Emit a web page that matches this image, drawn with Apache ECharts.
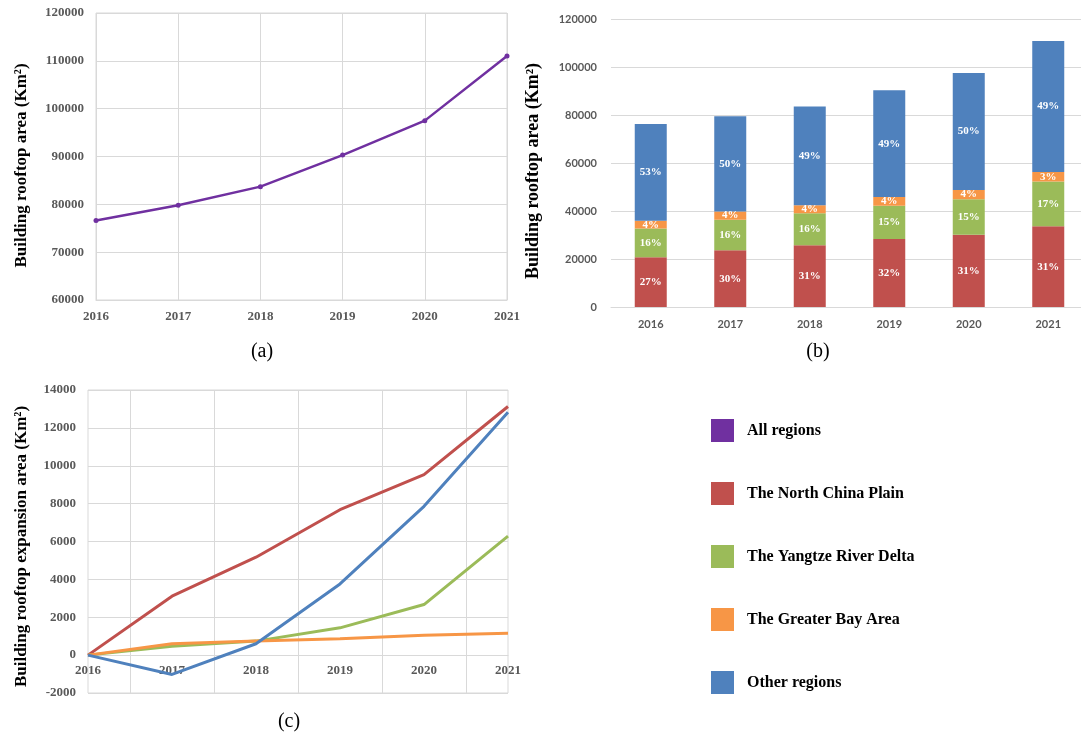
<!DOCTYPE html>
<html>
<head>
<meta charset="utf-8">
<title>Building rooftop area</title>
<script src="https://cdn.jsdelivr.net/npm/echarts@6/dist/echarts.min.js"></script>
<style>
  body { margin: 0; background: #fff; }
  #chart { width: 1081px; height: 737px; }
</style>
</head>
<body>
<div id="chart"></div>
<script>
// ---- data ----
const years = ["2016", "2017", "2018", "2019", "2020", "2021"];

// (a) total rooftop area, all regions
const allRegions = [76600, 79800, 83700, 90300, 97500, 111000];

// (b) rooftop area by region (stacked)
const northChina = [20700, 23600, 25700, 28300, 30100, 33600];
const yangtzeDelta = [12000, 12800, 13400, 13900, 14800, 18700];
const greaterBay = [3200, 3400, 3300, 3600, 3900, 3900];
const otherRegions = [40400, 39700, 41100, 44500, 48700, 54600];

// share labels printed in the bars
const northPct = ["27%", "30%", "31%", "32%", "31%", "31%"];
const yangtzePct = ["16%", "16%", "16%", "15%", "15%", "17%"];
const bayPct = ["4%", "4%", "4%", "4%", "4%", "3%"];
const otherPct = ["53%", "50%", "49%", "49%", "50%", "49%"];

// (c) expansion relative to 2016
const northExp = [0, 3110, 5170, 7680, 9530, 13130];
const yangtzeExp = [0, 470, 740, 1440, 2670, 6280];
const bayExp = [0, 600, 740, 860, 1050, 1160];
const otherExp = [0, -1020, 600, 3760, 7860, 12830];

const C_ALL = "#7030A0";
const C_NORTH = "#C0504D";
const C_YANGTZE = "#9BBB59";
const C_BAY = "#F79646";
const C_OTHER = "#4F81BD";
const GRID_LINE = "#d9d9d9";

const serif = '"Liberation Serif", "Times New Roman", serif';
const sans = 'Lato, "Liberation Sans", sans-serif';

// panel (c) y range and plot height; the year axis sits on the zero line
const expMin = -2000;
const expMax = 14000;
const expHeight = 303;
const zeroOffset = -expHeight * (0 - expMin) / (expMax - expMin);

const myChart = echarts.init(document.getElementById("chart"));

const plain = (v) => String(v);
const serifLabel = { fontFamily: serif, fontWeight: "bold", fontSize: 13, color: "#595959", formatter: plain };
const sansLabel = { fontFamily: sans, fontWeight: "bold", fontSize: 11, color: "#595959", formatter: plain };

function axisTitle(size, shiftDown) {
  // right padding pushes the rotated title downwards
  return { fontFamily: serif, fontWeight: "bold", fontSize: size, color: "#000", padding: [0, shiftDown * 2, 0, 0] };
}

function barSeries(name, vals, pct, color) {
  return {
    name: name,
    type: "bar",
    stack: "area",
    xAxisIndex: 1,
    yAxisIndex: 1,
    barWidth: 32,
    data: vals,
    itemStyle: { color: color },
    label: {
      show: true,
      position: "inside",
      formatter: (p) => pct[p.dataIndex],
      fontFamily: serif,
      fontWeight: "bold",
      fontSize: 11,
      color: "#fff",
    },
  };
}

function expSeries(name, vals, color) {
  return {
    name: name,
    type: "line",
    xAxisIndex: 2,
    yAxisIndex: 2,
    data: vals,
    showSymbol: false,
    lineStyle: { color: color, width: 3 },
    itemStyle: { color: color },
  };
}

const option = {
  backgroundColor: "#fff",
  animation: false,
  grid: [
    { left: 96, top: 13, width: 411, height: 287, show: true, borderColor: GRID_LINE, outerBoundsMode: "none" },
    { left: 611, top: 19, width: 477, height: 288, outerBoundsMode: "none" },
    { left: 88, top: 390, width: 420, height: expHeight, show: true, borderColor: GRID_LINE, outerBoundsMode: "none" },
  ],
  xAxis: [
    {
      gridIndex: 0,
      type: "category",
      data: years,
      boundaryGap: false,
      axisLine: { lineStyle: { color: GRID_LINE } },
      axisTick: { show: false },
      axisLabel: Object.assign({}, serifLabel, { margin: 10 }),
      splitLine: { show: true, lineStyle: { color: GRID_LINE } },
    },
    {
      gridIndex: 1,
      type: "category",
      data: years,
      axisLine: { lineStyle: { color: GRID_LINE } },
      axisTick: { show: false },
      axisLabel: Object.assign({}, sansLabel, { margin: 12 }),
    },
    {
      gridIndex: 2,
      type: "category",
      data: years,
      boundaryGap: false,
      position: "bottom",
      offset: zeroOffset,
      axisLine: { onZero: false, lineStyle: { color: GRID_LINE } },
      axisTick: { show: false },
      axisLabel: Object.assign({}, serifLabel, { margin: 9 }),
      splitLine: { show: false },
    },
    {
      // helper axis: only draws the vertical lines halfway between years in (c)
      gridIndex: 2,
      type: "value",
      position: "top",
      min: 0,
      max: 10,
      interval: 1,
      axisLine: { show: false, onZero: false },
      axisTick: { show: false },
      axisLabel: { show: false },
      splitLine: { show: true, lineStyle: { color: ["transparent", GRID_LINE] } },
    },
  ],
  yAxis: [
    {
      gridIndex: 0,
      type: "value",
      min: 60000,
      max: 120000,
      interval: 10000,
      name: "Building rooftop area (Km²)",
      nameLocation: "middle",
      nameGap: 66,
      nameTextStyle: axisTitle(17, 9),
      axisLine: { show: false },
      axisTick: { show: false },
      axisLabel: Object.assign({}, serifLabel, { margin: 12 }),
      splitLine: { lineStyle: { color: GRID_LINE } },
    },
    {
      gridIndex: 1,
      type: "value",
      min: 0,
      max: 120000,
      interval: 20000,
      name: "Building rooftop area (Km²)",
      nameLocation: "middle",
      nameGap: 69,
      nameTextStyle: axisTitle(18, 8),
      axisLine: { show: false },
      axisTick: { show: false },
      axisLabel: Object.assign({}, sansLabel, { margin: 14 }),
      splitLine: { lineStyle: { color: GRID_LINE } },
    },
    {
      gridIndex: 2,
      type: "value",
      min: expMin,
      max: expMax,
      interval: 2000,
      name: "Building rooftop expansion area (Km²)",
      nameLocation: "middle",
      nameGap: 58,
      nameTextStyle: axisTitle(17, 5),
      axisLine: { show: false },
      axisTick: { show: false },
      axisLabel: Object.assign({}, serifLabel, { margin: 12 }),
      splitLine: { lineStyle: { color: GRID_LINE } },
    },
  ],
  legend: {
    orient: "vertical",
    left: 706,
    top: 414,
    icon: "rect",
    itemWidth: 23,
    itemHeight: 23,
    itemGap: 40,
    selectedMode: false,
    data: ["All regions", "The North China Plain", "The Yangtze River Delta", "The Greater Bay Area", "Other regions"],
    textStyle: { fontFamily: serif, fontWeight: "bold", fontSize: 16, color: "#000", padding: [0, 0, 0, 8] },
  },
  graphic: [
    { type: "text", x: 262, y: 352, style: { text: "(a)", font: "20px " + serif, fill: "#000", align: "center", verticalAlign: "middle" } },
    { type: "text", x: 818, y: 352, style: { text: "(b)", font: "20px " + serif, fill: "#000", align: "center", verticalAlign: "middle" } },
    { type: "text", x: 289, y: 722, style: { text: "(c)", font: "20px " + serif, fill: "#000", align: "center", verticalAlign: "middle" } },
  ],
  series: [
    {
      name: "All regions",
      type: "line",
      xAxisIndex: 0,
      yAxisIndex: 0,
      data: allRegions,
      symbol: "circle",
      symbolSize: 5,
      lineStyle: { color: C_ALL, width: 2.5 },
      itemStyle: { color: C_ALL },
    },
    barSeries("The North China Plain", northChina, northPct, C_NORTH),
    barSeries("The Yangtze River Delta", yangtzeDelta, yangtzePct, C_YANGTZE),
    barSeries("The Greater Bay Area", greaterBay, bayPct, C_BAY),
    barSeries("Other regions", otherRegions, otherPct, C_OTHER),
    expSeries("The North China Plain", northExp, C_NORTH),
    expSeries("The Yangtze River Delta", yangtzeExp, C_YANGTZE),
    expSeries("The Greater Bay Area", bayExp, C_BAY),
    expSeries("Other regions", otherExp, C_OTHER),
  ],
};

myChart.setOption(option, true);
</script>
</body>
</html>
